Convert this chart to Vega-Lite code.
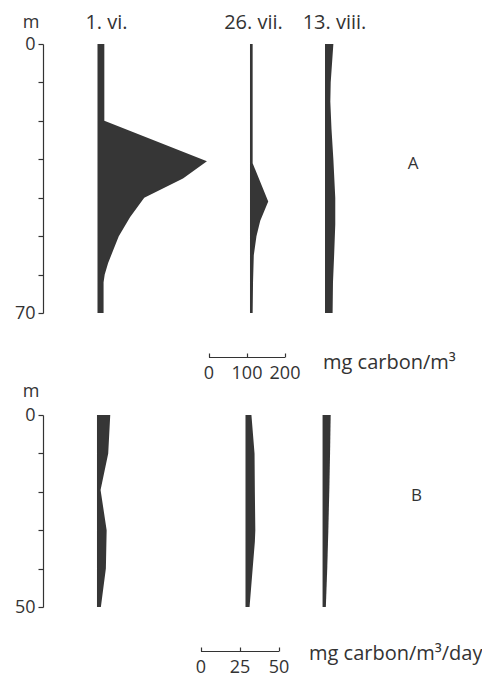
{
  "$schema": "https://vega.github.io/schema/vega-lite/v6.json",
  "background": "white",
  "padding": {"left": 14, "top": 12, "right": 0, "bottom": 0},
  "config": {
    "view": {"stroke": null},
    "font": "Open Sans",
    "axis": {"domainColor": "#333", "tickColor": "#333", "labelColor": "#333", "titleColor": "#333", "labelFont": "Open Sans", "titleFont": "Open Sans", "labelFontSize": 18, "titleFontSize": 20, "titleFontWeight": "normal", "grid": false, "domainWidth": 1.2, "tickWidth": 1.2, "labelOverlap": false, "labelFlush": false},
    "area": {"color": "#363636"},
    "text": {"color": "#333", "font": "Open Sans"}
  },
  "datasets": {
    "A_1vi": [
      {"depth": 0, "value": 18}, {"depth": 20, "value": 18}, {"depth": 30.5, "value": 288}, {"depth": 35, "value": 225},
      {"depth": 40, "value": 123}, {"depth": 45, "value": 86}, {"depth": 50, "value": 56}, {"depth": 54, "value": 40},
      {"depth": 57, "value": 28}, {"depth": 60, "value": 19}, {"depth": 62, "value": 16}, {"depth": 70, "value": 16}
    ],
    "A_26vii": [
      {"depth": 0, "value": 7}, {"depth": 31, "value": 7}, {"depth": 41, "value": 48}, {"depth": 46, "value": 27},
      {"depth": 50, "value": 17}, {"depth": 55, "value": 10}, {"depth": 62, "value": 8}, {"depth": 70, "value": 7}
    ],
    "A_13viii": [
      {"depth": 0, "value": 22}, {"depth": 10, "value": 15}, {"depth": 15, "value": 14}, {"depth": 22, "value": 17},
      {"depth": 30, "value": 22}, {"depth": 40, "value": 27}, {"depth": 47, "value": 27}, {"depth": 55, "value": 24},
      {"depth": 62, "value": 21}, {"depth": 70, "value": 20}
    ],
    "B_1vi": [
      {"depth": 0, "value": 8.5}, {"depth": 10, "value": 7.2}, {"depth": 19.5, "value": 2.3}, {"depth": 30, "value": 6.2},
      {"depth": 40, "value": 5.7}, {"depth": 50, "value": 2.5}
    ],
    "B_26vii": [
      {"depth": 0, "value": 3.8}, {"depth": 10, "value": 5.8}, {"depth": 20, "value": 6}, {"depth": 30, "value": 6.3},
      {"depth": 33, "value": 6}, {"depth": 40, "value": 4.6}, {"depth": 50, "value": 2.6}
    ],
    "B_13viii": [
      {"depth": 0, "value": 5.2}, {"depth": 10, "value": 4.8}, {"depth": 20, "value": 4.3}, {"depth": 30, "value": 3.7},
      {"depth": 40, "value": 3}, {"depth": 50, "value": 2.1}
    ]
  },
  "bounds": "flush",
  "spacing": 44,
  "vconcat": [
    {
      "width": 400, "height": 269,
      "resolve": {"scale": {"x": "independent"}},
      "layer": [
        {
          "data": {"name": "A_1vi"},
          "mark": {"type": "area", "orient": "horizontal"},
          "encoding": {
            "y": {"field": "depth", "type": "quantitative", "scale": {"domain": [0, 70], "reverse": true, "nice": false},
              "axis": {"orient": "left", "values": [0, 10, 20, 30, 40, 50, 60, 70],
                "labelExpr": "datum.value == 0 || datum.value == 70 ? datum.label : ''",
                "tickSize": 5, "labelPadding": 3, "title": "m", "titleAngle": 0, "titleX": -12.5, "titleY": -16.5,
                "titleAlign": "center", "titleBaseline": "alphabetic", "titleFontSize": 18}},
            "x": {"field": "value", "type": "quantitative", "stack": null, "scale": {"domain": [-143.4, 909.2], "nice": false, "zero": false},
              "axis": {"orient": "top", "domain": false, "ticks": false, "labels": false, "title": "1. vi.", "titleX": 63, "titleY": -16,
                "titleAngle": 0, "titleAlign": "center", "titleBaseline": "alphabetic"}}
          }
        },
        {
          "data": {"name": "A_26vii"},
          "mark": {"type": "area", "orient": "horizontal"},
          "encoding": {
            "y": {"field": "depth", "type": "quantitative", "scale": {"domain": [0, 70], "reverse": true, "nice": false},
              "axis": {"orient": "left", "values": [0, 10, 20, 30, 40, 50, 60, 70],
                "labelExpr": "datum.value == 0 || datum.value == 70 ? datum.label : ''",
                "tickSize": 5, "labelPadding": 3, "title": "m", "titleAngle": 0, "titleX": -12.5, "titleY": -16.5,
                "titleAlign": "center", "titleBaseline": "alphabetic", "titleFontSize": 18}},
            "x": {"field": "value", "type": "quantitative", "stack": null, "scale": {"domain": [-544.7, 507.9], "nice": false, "zero": false},
              "axis": {"orient": "top", "domain": false, "ticks": false, "labels": false, "title": "26. vii.", "titleX": 210, "titleY": -16,
                "titleAngle": 0, "titleAlign": "center", "titleBaseline": "alphabetic"}}
          }
        },
        {
          "data": {"name": "A_13viii"},
          "mark": {"type": "area", "orient": "horizontal"},
          "encoding": {
            "y": {"field": "depth", "type": "quantitative", "scale": {"domain": [0, 70], "reverse": true, "nice": false},
              "axis": {"orient": "left", "values": [0, 10, 20, 30, 40, 50, 60, 70],
                "labelExpr": "datum.value == 0 || datum.value == 70 ? datum.label : ''",
                "tickSize": 5, "labelPadding": 3, "title": "m", "titleAngle": 0, "titleX": -12.5, "titleY": -16.5,
                "titleAlign": "center", "titleBaseline": "alphabetic", "titleFontSize": 18}},
            "x": {"field": "value", "type": "quantitative", "stack": null, "scale": {"domain": [-742.1, 310.5], "nice": false, "zero": false},
              "axis": {"orient": "top", "domain": false, "ticks": false, "labels": false, "title": "13. viii.", "titleX": 291, "titleY": -16,
                "titleAngle": 0, "titleAlign": "center", "titleBaseline": "alphabetic"}}
          }
        },
        {
          "data": {"values": [{"label": "A"}]},
          "mark": {"type": "text", "fontSize": 17, "dx": 170, "dy": -15},
          "encoding": {"text": {"field": "label", "type": "nominal"}}
        }
      ]
    },
    {
      "width": 400, "height": 14,
      "data": {"values": [{"v": 0}, {"v": 200}]},
      "mark": {"type": "point", "opacity": 0},
      "encoding": {
        "x": {"field": "v", "type": "quantitative", "scale": {"domain": [0, 200], "range": [165.5, 241.5], "nice": false},
          "axis": {"orient": "top", "values": [0, 100, 200], "tickSize": 4, "labelPadding": -25, "labelBaseline": "alphabetic",
            "title": "mg carbon/m³", "titleX": 279.5, "titleY": 11, "titleAlign": "left", "titleBaseline": "alphabetic", "titleAngle": 0}}
      }
    },
    {
      "width": 400, "height": 192,
      "resolve": {"scale": {"x": "independent"}},
      "layer": [
        {
          "data": {"name": "B_1vi"},
          "mark": {"type": "area", "orient": "horizontal"},
          "encoding": {
            "y": {"field": "depth", "type": "quantitative", "scale": {"domain": [0, 50], "reverse": true, "nice": false},
              "axis": {"orient": "left", "values": [0, 10, 20, 30, 40, 50],
                "labelExpr": "datum.value == 0 || datum.value == 50 ? datum.label : ''",
                "tickSize": 5, "labelPadding": 3, "title": "m", "titleAngle": 0, "titleX": -12.5, "titleY": -19,
                "titleAlign": "center", "titleBaseline": "alphabetic", "titleFontSize": 18}},
            "x": {"field": "value", "type": "quantitative", "stack": null, "scale": {"domain": [-34.6, 221.8], "nice": false, "zero": false}, "axis": null}
          }
        },
        {
          "data": {"name": "B_26vii"},
          "mark": {"type": "area", "orient": "horizontal"},
          "encoding": {
            "y": {"field": "depth", "type": "quantitative", "scale": {"domain": [0, 50], "reverse": true, "nice": false},
              "axis": {"orient": "left", "values": [0, 10, 20, 30, 40, 50],
                "labelExpr": "datum.value == 0 || datum.value == 50 ? datum.label : ''",
                "tickSize": 5, "labelPadding": 3, "title": "m", "titleAngle": 0, "titleX": -12.5, "titleY": -19,
                "titleAlign": "center", "titleBaseline": "alphabetic", "titleFontSize": 18}},
            "x": {"field": "value", "type": "quantitative", "stack": null, "scale": {"domain": [-129.8, 126.6], "nice": false, "zero": false}, "axis": null}
          }
        },
        {
          "data": {"name": "B_13viii"},
          "mark": {"type": "area", "orient": "horizontal"},
          "encoding": {
            "y": {"field": "depth", "type": "quantitative", "scale": {"domain": [0, 50], "reverse": true, "nice": false},
              "axis": {"orient": "left", "values": [0, 10, 20, 30, 40, 50],
                "labelExpr": "datum.value == 0 || datum.value == 50 ? datum.label : ''",
                "tickSize": 5, "labelPadding": 3, "title": "m", "titleAngle": 0, "titleX": -12.5, "titleY": -19,
                "titleAlign": "center", "titleBaseline": "alphabetic", "titleFontSize": 18}},
            "x": {"field": "value", "type": "quantitative", "stack": null, "scale": {"domain": [-179.2, 77.2], "nice": false, "zero": false}, "axis": null}
          }
        },
        {
          "data": {"values": [{"label": "B"}]},
          "mark": {"type": "text", "fontSize": 17, "dx": 173.5, "dy": -15},
          "encoding": {"text": {"field": "label", "type": "nominal"}}
        }
      ]
    },
    {
      "width": 400, "height": 14,
      "data": {"values": [{"v": 0}, {"v": 50}]},
      "mark": {"type": "point", "opacity": 0},
      "encoding": {
        "x": {"field": "v", "type": "quantitative", "scale": {"domain": [0, 50], "range": [157.5, 235.5], "nice": false},
          "axis": {"orient": "top", "values": [0, 25, 50], "tickSize": 4, "labelPadding": -25, "labelBaseline": "alphabetic",
            "title": "mg carbon/m³/day", "titleX": 265.5, "titleY": 8, "titleAlign": "left", "titleBaseline": "alphabetic", "titleAngle": 0}}
      }
    }
  ]
}
